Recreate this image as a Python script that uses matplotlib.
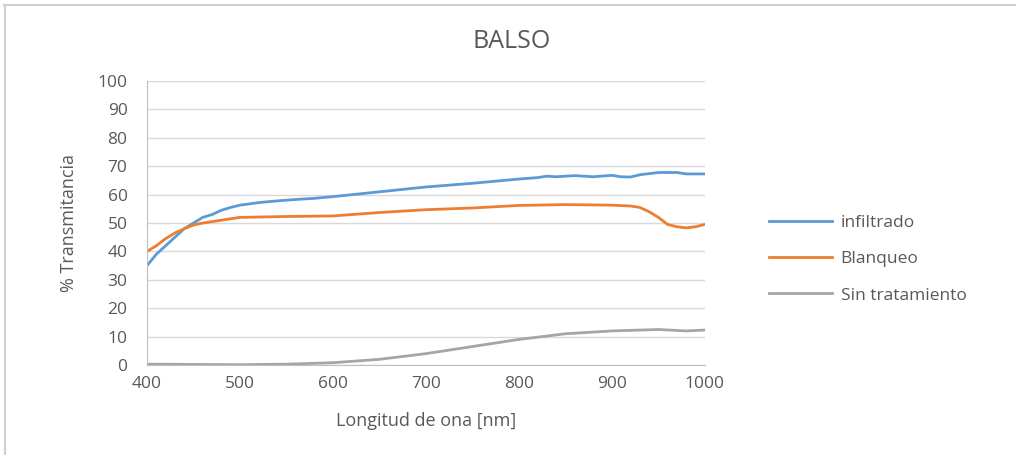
import numpy as np
import matplotlib.pyplot as plt

plt.rcParams['font.family'] = ['Open Sans', 'DejaVu Sans']

# infiltrado
wl_inf = [400, 410, 420, 430, 440, 450, 460, 470, 480, 490, 500, 520, 540, 560, 580,
          600, 650, 700, 750, 800, 820, 830, 840, 860, 880, 900, 910, 920, 930, 950,
          970, 980, 1000]
t_inf = [35, 39, 42, 45, 48, 50, 52, 53, 54.5, 55.5, 56.3, 57.2, 57.8, 58.3, 58.7,
         59.3, 61, 62.7, 64, 65.5, 66, 66.5, 66.3, 66.7, 66.3, 66.8, 66.3, 66.2, 67, 67.8,
         67.8, 67.3, 67.3]

# Blanqueo
wl_bla = [400, 410, 420, 430, 440, 450, 460, 480, 500, 550, 600, 650, 700, 750, 800,
          850, 900, 920, 930, 940, 950, 960, 970, 980, 990, 1000]
t_bla = [40, 42, 44.5, 46.5, 48, 49.3, 50, 51, 52, 52.3, 52.5, 53.7, 54.7, 55.3, 56.2,
         56.5, 56.3, 56, 55.5, 54, 52, 49.5, 48.7, 48.3, 48.7, 49.5]

# Sin tratamiento
wl_sin = [400, 450, 500, 550, 600, 650, 700, 750, 800, 850, 900, 950, 980, 1000]
t_sin = [0.3, 0.2, 0.1, 0.3, 0.8, 2, 4, 6.5, 9, 11, 12, 12.5, 12, 12.3]

xticks = [400, 500, 600, 700, 800, 900, 1000]
yticks = list(range(0, 101, 10))

txt = '#595959'
fig = plt.figure(figsize=(10.16, 4.55), dpi=100)
ax = fig.add_axes([0.1447, 0.1978, 0.549, 0.624])

ax.plot(wl_inf, t_inf, color='#5b9bd5', lw=2, label='infiltrado')
ax.plot(wl_bla, t_bla, color='#ed7d31', lw=2, label='Blanqueo')
ax.plot(wl_sin, t_sin, color='#a5a5a5', lw=2, label='Sin tratamiento')

ax.set_xlim(400, 1000)
ax.set_ylim(0, 100)
ax.set_xticks(xticks)
ax.set_yticks(yticks)
ax.grid(axis='y', color='#d9d9d9', lw=1)
ax.set_axisbelow(True)
for s in ['top', 'right']:
    ax.spines[s].set_visible(False)
ax.spines['left'].set_color('#bfbfbf')
ax.spines['bottom'].set_color('#bfbfbf')
ax.tick_params(axis='y', length=0, labelsize=12.5, colors=txt, pad=14)
ax.tick_params(axis='x', length=0, labelsize=12.5, colors=txt, pad=8)

ax.set_xlabel('Longitud de ona [nm]', fontsize=13, color=txt, labelpad=14)
ax.set_ylabel('% Transmitancia', fontsize=13, color=txt, labelpad=14)
fig.text(0.504, 0.908, 'BALSO', ha='center', va='center', fontsize=18, color=txt)

fig.legend(loc='center left', bbox_to_anchor=(0.742, 0.43), frameon=False,
           fontsize=12.5, labelcolor=txt, handlelength=3.6, labelspacing=1.15,
           handletextpad=0.5)

# outer frame (top and left only)
fig.add_artist(plt.Line2D([0.004, 1], [0.989, 0.989], color='#d0d0d0', lw=1.5))
fig.add_artist(plt.Line2D([0.005, 0.005], [0, 0.989], color='#d0d0d0', lw=1.5))

fig.savefig('out.png', dpi=100)
